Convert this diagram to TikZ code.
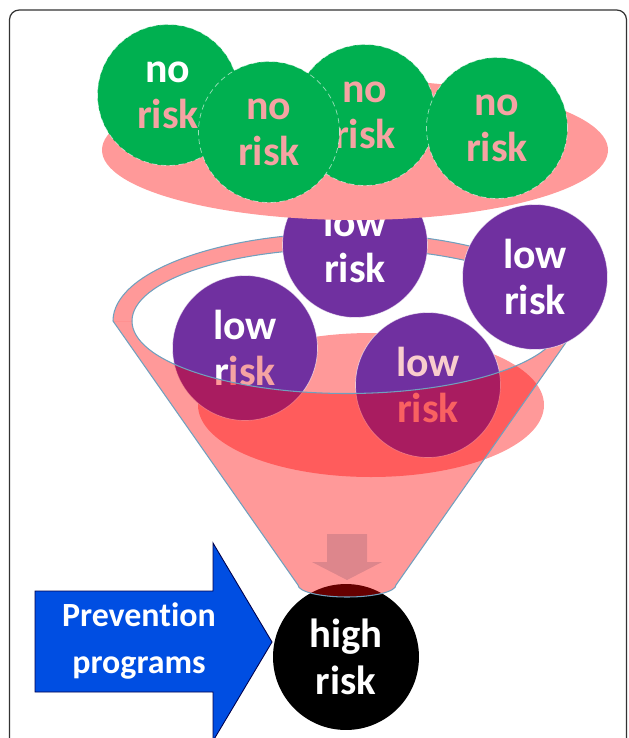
\documentclass[tikz,border=0pt]{standalone}
\usepackage{fontspec}
\setmainfont{Carlito}[Ligatures=NoCommon]
\usetikzlibrary{positioning}
\definecolor{noG}{RGB}{0,176,80}
\definecolor{lowP}{RGB}{112,48,160}
\definecolor{trayR}{RGB}{255,153,153}
\definecolor{knockR}{RGB}{245,163,163}
\definecolor{prevB}{RGB}{0,78,226}
\definecolor{rimL}{RGB}{112,160,190}
\definecolor{dropR}{RGB}{221,134,140}

\begin{document}
\begin{tikzpicture}[x=0.02cm, y=-0.02cm,
  nr/.style={circle, fill=noG, draw=white, draw opacity=.6, densely dashed, line width=.4pt, minimum size=2.82cm, inner sep=0pt, align=center, text=white, font=\fontsize{23.8}{26.1}\selectfont\bfseries},
  lr/.style={nr, solid, fill=lowP, minimum size=2.9cm},
  hr/.style={circle, fill=black, minimum size=2.92cm, inner sep=0pt, align=center, text=white, font=\fontsize{23.2}{26.6}\selectfont\bfseries},
  cone/.style={fill=red, fill opacity=.4},
  rim/.style={draw=rimL, line width=.6pt}]
  \useasboundingbox (0,0) rectangle (629,738);
  \draw[rounded corners=5.5pt, draw=black!80, line width=.7pt] (9.5,10) rectangle (626.5,790);
  \node[hr] (high) at (346,657) {high\\risk};
  % funnel, back half of the rim
  \fill[cone] (113,321) arc[start angle=180, end angle=360, x radius=234, y radius=88] -- (562,321)
    arc[start angle=360, end angle=180, x radius=215, y radius=72.5] -- cycle;
  \draw[rim] (113,321) arc[start angle=180, end angle=360, x radius=234, y radius=88];
  \draw[rim] (562,321) arc[start angle=360, end angle=180, x radius=215, y radius=72.5];
  \fill[cone] (371,405) ellipse [x radius=173, y radius=72];
  \node[lr] (lowL) at (245,348) {low\\r\textcolor{knockR}{isk}};
  \node[lr] (lowC) at (428,385) {\textcolor{knockR!55!white}{low}\\\textcolor{knockR}{risk}};
  % funnel, front half and spout
  \fill[cone] (132,321) arc[start angle=180, end angle=0, x radius=215, y radius=72.5] -- (581,321) -- (396,585)
    arc[start angle=0, end angle=180, x radius=49, y radius=12] -- (113,321) -- cycle;
  \draw[rim] (132,321) arc[start angle=180, end angle=0, x radius=215, y radius=72.5];
  \draw[rim] (581,321) -- (396,585) arc[start angle=0, end angle=180, x radius=49, y radius=12] -- (113,321);
  \fill[dropR] (327,534) -- (367,534) -- (367,562) -- (382,562) -- (347,580) -- (312,562) -- (327,562) -- cycle;
  \node[lr] (lowT) at (355,245) {low\\risk};
  \node[lr] (lowR) at (535,277) {low\\risk};
  % tray with the no-risk group
  \fill[trayR] (355,150) ellipse [x radius=253, y radius=70];
  \node[nr] (no1) at (168,95) {no\\\textcolor{knockR}{risk}};
  \node[nr, text=knockR] (no3) at (365,115) {no\\risk};
  \node[nr, text=knockR] (no4) at (497,128) {no\\risk};
  \node[nr, text=knockR] (no2) at (269,132) {no\\risk};
  % prevention arrow
  \filldraw[fill=prevB, draw=black!70!blue, line width=.5pt] (35,591) -- (213,591) -- (213,543) -- (272,642)
    -- (213,741) -- (213,692) -- (35,692) -- cycle;
  \node[align=center, text=white, font=\fontsize{19.3}{26.6}\selectfont\bfseries] (prev) at (139,641) {Prevention\\programs};
\end{tikzpicture}
\end{document}
